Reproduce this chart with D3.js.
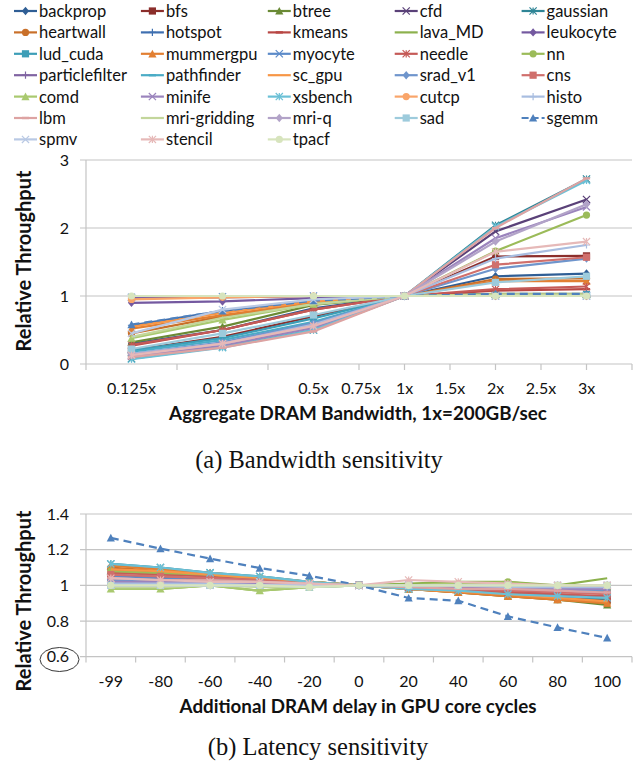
<!DOCTYPE html>
<html>
<head>
<meta charset="utf-8">
<script src="https://cdn.jsdelivr.net/npm/d3@7"></script>
<style>
    body { margin: 0; background: #fff; }
    svg { display: block; }
</style>
</head>
<body>
<div id="chart"></div>
<script>
const benchmarks = ['backprop', 'bfs', 'btree', 'cfd', 'gaussian',
    'heartwall', 'hotspot', 'kmeans', 'lava_MD', 'leukocyte',
    'lud_cuda', 'mummergpu', 'myocyte', 'needle', 'nn',
    'particlefilter', 'pathfinder', 'sc_gpu', 'srad_v1', 'cns',
    'comd', 'minife', 'xsbench', 'cutcp', 'histo',
    'lbm', 'mri-gridding', 'mri-q', 'sad', 'sgemm',
    'spmv', 'stencil', 'tpacf'];

const seriesColors = ['#2F5E95', '#8B2E2B', '#6A8A35', '#5A4178', '#2F8596',
    '#C9702A', '#3E6FB0', '#B84744', '#8CB14D', '#7459A0',
    '#3D9EB7', '#E27F32', '#5C8BC9', '#C55A57', '#9BBB59',
    '#8064A2', '#4BACC6', '#F79646', '#6F95CC', '#D06F6C',
    '#A9C96F', '#9B84BD', '#6BC0D6', '#F9A56A', '#A8BDE0',
    '#DDA3A2', '#C3D69B', '#B2A3C8', '#9DCBDC', '#4F81BD',
    '#B9C9E4', '#E6B9B8', '#D7E4BD'];

const markerCycle = ['diamond', 'square', 'triangle', 'x', 'star', 'circle', 'plus', 'dash', 'none'];

// (a) bandwidth sensitivity
const bwLevels = ['0.125x', '0.25x', '0.5x', '1x', '2x', '3x'];
const bwTickLabels = ['0.125x', '0.25x', '0.5x', '0.75x', '1x', '1.5x', '2x', '2.5x', '3x'];
const bwYTicks = [0, 1, 2, 3];
const bwValues = {
    'backprop':       [0.30, 0.50, 0.82, 1, 1.29, 1.33],
    'bfs':            [0.20, 0.40, 0.70, 1, 1.58, 1.59],
    'btree':          [0.32, 0.55, 0.87, 1, 1.03, 1.03],
    'cfd':            [0.12, 0.28, 0.55, 1, 1.95, 2.42],
    'gaussian':       [0.08, 0.25, 0.50, 1, 2.04, 2.72],
    'heartwall':      [0.45, 0.70, 0.90, 1, 1.25, 1.26],
    'hotspot':        [0.57, 0.78, 0.93, 1, 1.02, 1.02],
    'kmeans':         [0.27, 0.50, 0.80, 1, 1.08, 1.10],
    'lava_MD':        [0.98, 1.00, 1.00, 1, 1.00, 1.00],
    'leukocyte':      [0.90, 0.92, 0.97, 1, 1.00, 1.00],
    'lud_cuda':       [0.20, 0.38, 0.67, 1, 1.02, 1.02],
    'mummergpu':      [0.52, 0.72, 0.90, 1, 1.22, 1.22],
    'myocyte':        [0.98, 0.99, 1.00, 1, 1.00, 1.00],
    'needle':         [0.28, 0.50, 0.80, 1, 1.10, 1.14],
    'nn':             [0.15, 0.30, 0.58, 1, 1.66, 2.19],
    'particlefilter': [0.97, 0.98, 1.00, 1, 1.00, 1.00],
    'pathfinder':     [0.18, 0.35, 0.62, 1, 1.02, 1.02],
    'sc_gpu':         [0.55, 0.75, 0.92, 1, 1.02, 1.02],
    'srad_v1':        [0.15, 0.32, 0.60, 1, 1.40, 1.55],
    'cns':            [0.12, 0.28, 0.55, 1, 1.46, 1.57],
    'comd':           [0.38, 0.65, 0.88, 1, 1.02, 1.02],
    'minife':         [0.12, 0.27, 0.53, 1, 1.85, 2.31],
    'xsbench':        [0.07, 0.24, 0.50, 1, 2.02, 2.70],
    'cutcp':          [0.95, 0.98, 1.00, 1, 1.00, 1.00],
    'histo':          [0.15, 0.30, 0.58, 1, 1.55, 1.75],
    'lbm':            [0.10, 0.24, 0.48, 1, 2.00, 2.73],
    'mri-gridding':   [0.40, 0.68, 0.88, 1, 1.02, 1.02],
    'mri-q':          [0.14, 0.30, 0.56, 1, 1.80, 2.35],
    'sad':            [0.22, 0.45, 0.72, 1, 1.20, 1.29],
    'sgemm':          [0.58, 0.78, 0.93, 1, 1.03, 1.03],
    'spmv':           [0.45, 0.80, 0.95, 1, 1.00, 1.00],
    'stencil':        [0.13, 0.30, 0.56, 1, 1.65, 1.80],
    'tpacf':          [1.00, 1.00, 1.00, 1, 1.00, 1.00]
};

// (b) latency sensitivity
const latLevels = ['-99', '-80', '-60', '-40', '-20', '0', '20', '40', '60', '80', '100'];
const latYTicks = [0.6, 0.8, 1, 1.2, 1.4];
const latValues = {
    'backprop':       [1.02, 1.02, 1.02, 1.01, 1.00, 1, 0.99, 0.97, 0.96, 0.94, 0.93],
    'bfs':            [1.05, 1.04, 1.03, 1.02, 1.01, 1, 0.99, 0.98, 0.97, 0.95, 0.93],
    'btree':          [1.08, 1.07, 1.06, 1.04, 1.02, 1, 0.98, 0.96, 0.94, 0.92, 0.89],
    'cfd':            [1.04, 1.03, 1.03, 1.02, 1.01, 1, 0.99, 0.99, 0.98, 0.97, 0.97],
    'gaussian':       [1.12, 1.10, 1.07, 1.05, 1.02, 1, 0.98, 0.97, 0.96, 0.94, 0.92],
    'heartwall':      [1.10, 1.08, 1.06, 1.04, 1.02, 1, 0.98, 0.96, 0.94, 0.92, 0.90],
    'hotspot':        [1.03, 1.02, 1.02, 1.01, 1.00, 1, 1.00, 0.99, 0.99, 0.98, 0.98],
    'kmeans':         [1.09, 1.07, 1.05, 1.03, 1.01, 1, 0.99, 0.97, 0.95, 0.93, 0.91],
    'lava_MD':        [0.98, 0.98, 1.00, 0.97, 0.99, 1, 1.01, 1.02, 1.02, 1.00, 1.04],
    'leukocyte':      [1.00, 1.00, 1.00, 1.00, 1.00, 1, 1.00, 1.00, 0.99, 0.99, 0.99],
    'lud_cuda':       [1.01, 1.01, 1.01, 1.00, 1.00, 1, 1.00, 1.00, 0.99, 0.99, 0.99],
    'mummergpu':      [1.11, 1.09, 1.07, 1.045, 1.02, 1, 0.98, 0.96, 0.94, 0.92, 0.90],
    'myocyte':        [1.05, 1.04, 1.03, 1.02, 1.01, 1, 0.99, 0.98, 0.98, 0.97, 0.96],
    'needle':         [1.07, 1.06, 1.05, 1.03, 1.01, 1, 0.99, 0.98, 0.96, 0.95, 0.94],
    'nn':             [1.08, 1.07, 1.06, 1.04, 1.02, 1, 1.00, 1.01, 1.02, 0.99, 0.97],
    'particlefilter': [1.00, 1.00, 1.00, 1.00, 1.00, 1, 1.00, 1.00, 1.00, 0.99, 0.99],
    'pathfinder':     [1.01, 1.01, 1.00, 1.00, 1.00, 1, 1.00, 1.00, 1.00, 0.99, 0.99],
    'sc_gpu':         [1.09, 1.08, 1.06, 1.04, 1.02, 1, 0.98, 0.965, 0.95, 0.93, 0.91],
    'srad_v1':        [1.03, 1.03, 1.02, 1.01, 1.00, 1, 1.00, 0.99, 0.98, 0.98, 0.97],
    'cns':            [1.06, 1.05, 1.04, 1.03, 1.01, 1, 0.99, 0.98, 0.97, 0.96, 0.95],
    'comd':           [0.98, 0.98, 1.00, 0.97, 0.99, 1, 1.00, 1.01, 1.01, 0.99, 1.00],
    'minife':         [1.02, 1.02, 1.01, 1.01, 1.00, 1, 1.00, 0.99, 0.99, 0.98, 0.98],
    'xsbench':        [1.12, 1.10, 1.07, 1.05, 1.02, 1, 0.98, 0.97, 0.95, 0.94, 0.93],
    'cutcp':          [1.00, 1.00, 1.00, 1.00, 1.00, 1, 1.00, 1.00, 1.00, 1.00, 1.00],
    'histo':          [1.01, 1.01, 1.01, 1.00, 1.00, 1, 1.00, 1.00, 0.99, 0.99, 0.99],
    'lbm':            [1.04, 1.03, 1.03, 1.02, 1.01, 1, 0.99, 0.98, 0.98, 0.97, 0.96],
    'mri-gridding':   [0.99, 0.99, 1.00, 0.99, 0.99, 1, 1.00, 1.00, 1.00, 1.00, 1.00],
    'mri-q':          [1.00, 1.00, 1.00, 1.00, 1.00, 1, 1.00, 1.00, 1.00, 1.00, 1.00],
    'sad':            [1.00, 1.00, 1.00, 1.00, 0.99, 1, 1.00, 1.00, 1.00, 1.00, 1.00],
    'sgemm':          [1.266, 1.206, 1.15, 1.097, 1.054, 1, 0.929, 0.914, 0.826, 0.764, 0.705],
    'spmv':           [1.00, 1.00, 1.00, 1.00, 1.00, 1, 1.00, 1.00, 1.00, 1.00, 1.00],
    'stencil':        [1.04, 1.03, 1.02, 1.02, 1.01, 1, 1.03, 1.02, 1.01, 1.00, 1.00],
    'tpacf':          [1.00, 1.00, 1.00, 1.00, 0.99, 1, 1.00, 1.00, 1.00, 1.00, 1.00]
};

const width = 639, height = 765;
const FONT = 'Lato, "Open Sans", sans-serif';
const SERIF = '"Liberation Serif", "DejaVu Serif", serif';
const GRID = '#C4C4C4';

const svg = d3.select('#chart').append('svg')
    .attr('width', width)
    .attr('height', height);

const color = d3.scaleOrdinal().domain(benchmarks).range(seriesColors);
const markerOf = name => markerCycle[benchmarks.indexOf(name) % markerCycle.length];

function drawMarker(g, type, c, x, y) {
    const s = 3.6;
    if (type === 'diamond') {
        g.append('path').attr('d', `M${x},${y - s - 0.6}L${x + s},${y}L${x},${y + s + 0.6}L${x - s},${y}Z`).attr('fill', c);
    } else if (type === 'square') {
        g.append('rect').attr('x', x - s).attr('y', y - s).attr('width', 2 * s).attr('height', 2 * s).attr('fill', c);
    } else if (type === 'triangle') {
        g.append('path').attr('d', `M${x},${y - s - 0.5}L${x + s + 0.5},${y + s}L${x - s - 0.5},${y + s}Z`).attr('fill', c);
    } else if (type === 'circle') {
        g.append('circle').attr('cx', x).attr('cy', y).attr('r', s).attr('fill', c);
    } else if (type === 'x' || type === 'star') {
        let d = `M${x - s},${y - s}L${x + s},${y + s}M${x - s},${y + s}L${x + s},${y - s}`;
        if (type === 'star') d += `M${x},${y - s}L${x},${y + s}`;
        g.append('path').attr('d', d).attr('stroke', c).attr('stroke-width', 1.2).attr('fill', 'none');
    } else if (type === 'plus') {
        g.append('path').attr('d', `M${x - s},${y}L${x + s},${y}M${x},${y - s}L${x},${y + s}`)
            .attr('stroke', c).attr('stroke-width', 1.2);
    } else if (type === 'dash') {
        g.append('path').attr('d', `M${x - s},${y}L${x + s},${y}`).attr('stroke', c).attr('stroke-width', 2.4);
    }
}

// ---- legend ----
const legend = svg.append('g');
benchmarks.forEach((name, i) => {
    const col = i % 5, row = Math.floor(i / 5);
    const lx = 14 + col * 126.9, ly = 11 + row * 21.4;
    const g = legend.append('g');
    g.append('line')
        .attr('x1', lx).attr('x2', lx + 23).attr('y1', ly).attr('y2', ly)
        .attr('stroke', color(name)).attr('stroke-width', 2.2)
        .attr('stroke-dasharray', name === 'sgemm' ? '7,3' : null);
    drawMarker(g, markerOf(name), color(name), lx + 11.5, ly);
    g.append('text')
        .attr('x', lx + 25).attr('y', ly).attr('dy', '0.36em')
        .style('font-family', FONT).style('font-size', '16.5px').attr('fill', '#111')
        .text(name);
});

function drawFrame(y, yTicks, plotTop, plotBottom, tickFmt) {
    const g = svg.append('g');
    g.selectAll('.grid')
        .data(yTicks.slice(1))
        .enter().append('line')
        .attr('x1', 80).attr('x2', 632)
        .attr('y1', d => y(d)).attr('y2', d => y(d))
        .attr('stroke', GRID).attr('stroke-width', 1.2);
    g.append('line').attr('x1', 80).attr('x2', 632).attr('y1', plotBottom).attr('y2', plotBottom)
        .attr('stroke', GRID).attr('stroke-width', 1.2);
    g.append('line').attr('x1', 86).attr('x2', 86).attr('y1', plotTop).attr('y2', plotBottom)
        .attr('stroke', GRID).attr('stroke-width', 1.2);
    g.selectAll('.ylab')
        .data(yTicks)
        .enter().append('text')
        .attr('x', 69).attr('y', d => y(d)).attr('dy', '0.36em')
        .attr('text-anchor', 'end')
        .style('font-family', FONT).style('font-size', '16px').attr('fill', '#111')
        .text(tickFmt);
    return g;
}

function drawSeries(values, xOf, y, levels) {
    const g = svg.append('g');
    const line = d3.line().x((d, i) => xOf(levels[i])).y(d => y(d));
    benchmarks.forEach(name => {
        const c = color(name);
        const sg = g.append('g');
        sg.append('path')
            .attr('d', line(values[name]))
            .attr('fill', 'none').attr('stroke', c).attr('stroke-width', 2.2)
            .attr('stroke-linejoin', 'round')
            .attr('stroke-dasharray', name === 'sgemm' ? '8,5' : null);
        values[name].forEach((v, i) => drawMarker(sg, markerOf(name), c, xOf(levels[i]), y(v)));
    });
}

function yTitle(cy) {
    svg.append('text')
        .attr('transform', `translate(31,${cy}) rotate(-90)`)
        .attr('text-anchor', 'middle')
        .style('font-family', FONT).style('font-size', '20px').style('font-weight', 'bold')
        .attr('fill', '#111')
        .text('Relative Throughput');
}

// ---- (a) bandwidth ----
const yA = d3.scaleLinear().domain([0, 3]).range([364, 160]);
const slotX = d3.scaleLinear().domain([0, 12]).range([86, 632]);
const bwSlot = d3.scaleOrdinal().domain(bwTickLabels).range([1, 3, 5, 6, 7, 8, 9, 10, 11]);
const xA = lv => slotX(bwSlot(lv));

const frameA = drawFrame(yA, bwYTicks, 160, 364, d => d);
frameA.selectAll('.xt')
    .data([0, 2, 4, 6, 7, 8, 9, 10, 11, 12])
    .enter().append('line')
    .attr('x1', d => slotX(d)).attr('x2', d => slotX(d))
    .attr('y1', 364).attr('y2', 370)
    .attr('stroke', GRID).attr('stroke-width', 1.2);
frameA.selectAll('.xl')
    .data(bwTickLabels)
    .enter().append('text')
    .attr('x', d => xA(d) + (d === '0.75x' ? 2 : 0)).attr('y', 388).attr('dy', '0.36em')
    .attr('text-anchor', 'middle')
    .style('font-family', FONT).style('font-size', '16px').attr('fill', '#111')
    .text(d => d);
drawSeries(bwValues, xA, yA, bwLevels);
yTitle(261);
svg.append('text')
    .attr('x', 358).attr('y', 413).attr('dy', '0.36em').attr('text-anchor', 'middle')
    .style('font-family', FONT).style('font-size', '18.8px').style('font-weight', 'bold').attr('fill', '#111')
    .text('Aggregate DRAM Bandwidth, 1x=200GB/sec');
svg.append('text')
    .attr('x', 319).attr('y', 459).attr('dy', '0.36em').attr('text-anchor', 'middle')
    .style('font-family', SERIF).style('font-size', '24.5px').attr('fill', '#111')
    .text('(a) Bandwidth sensitivity');

// ---- (b) latency ----
const yB = d3.scaleLinear().domain([0.6, 1.4]).range([656.7, 514]);
const xB = d3.scaleBand().domain(latLevels).range([86, 632]);
const xBc = lv => xB(lv) + xB.bandwidth() / 2;

const frameB = drawFrame(yB, latYTicks, 514, 656.7, d => d3.format('.1~f')(d));
frameB.selectAll('.xt')
    .data(latLevels.concat(['end']))
    .enter().append('line')
    .attr('x1', d => d === 'end' ? 632 : xB(d)).attr('x2', d => d === 'end' ? 632 : xB(d))
    .attr('y1', 656.7).attr('y2', 662.5)
    .attr('stroke', GRID).attr('stroke-width', 1.2);
frameB.selectAll('.xl')
    .data(latLevels)
    .enter().append('text')
    .attr('x', d => xBc(d)).attr('y', 681.5).attr('dy', '0.36em')
    .attr('text-anchor', 'middle')
    .style('font-family', FONT).style('font-size', '16px').attr('fill', '#111')
    .text(d => d);
drawSeries(latValues, xBc, yB, latLevels);
yTitle(601);
// hand-drawn ellipse around the 0.6 label
svg.append('ellipse')
    .attr('cx', 59.5).attr('cy', 659.5).attr('rx', 19.5).attr('ry', 12)
    .attr('fill', 'none').attr('stroke', '#222').attr('stroke-width', 0.9);
svg.append('text')
    .attr('x', 358).attr('y', 706).attr('dy', '0.36em').attr('text-anchor', 'middle')
    .style('font-family', FONT).style('font-size', '18.8px').style('font-weight', 'bold').attr('fill', '#111')
    .text('Additional DRAM delay in GPU core cycles');
svg.append('text')
    .attr('x', 318).attr('y', 746).attr('dy', '0.36em').attr('text-anchor', 'middle')
    .style('font-family', SERIF).style('font-size', '24.5px').attr('fill', '#111')
    .text('(b) Latency sensitivity');
</script>
</body>
</html>
